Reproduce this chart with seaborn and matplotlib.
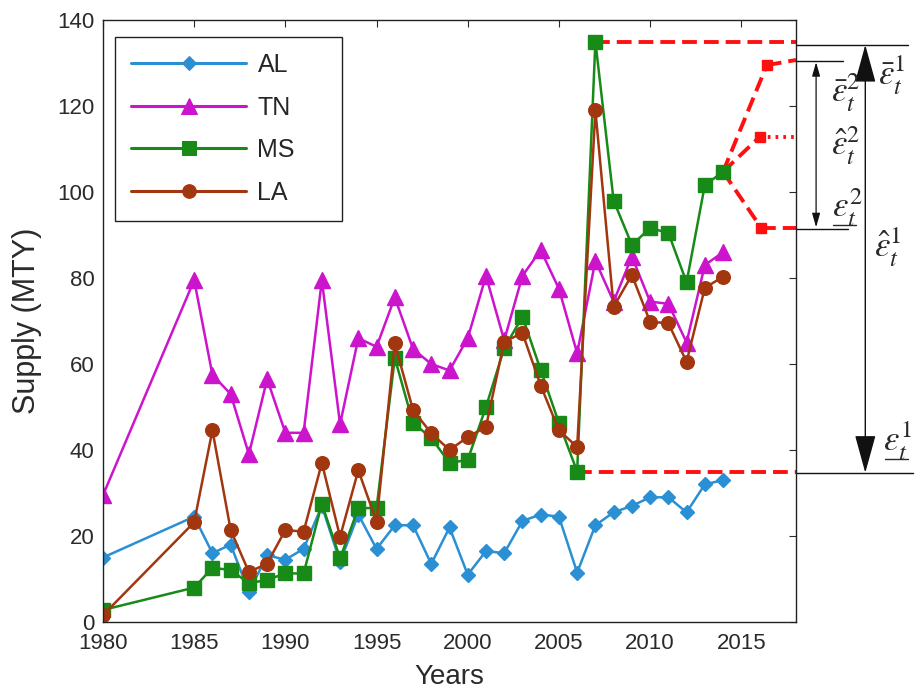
import numpy as np
import pandas as pd
import matplotlib
matplotlib.use("Agg")
import matplotlib.pyplot as plt
import matplotlib.transforms as mtransforms
import seaborn as sns

# ---------------- data ----------------
years = [1980, 1985, 1986, 1987, 1988, 1989, 1990, 1991, 1992, 1993, 1994, 1995,
         1996, 1997, 1998, 1999, 2000, 2001, 2002, 2003, 2004, 2005, 2006, 2007,
         2008, 2009, 2010, 2011, 2012, 2013, 2014]
AL = [15, 24.5, 16, 18, 7, 15.5, 14.5, 17, 27, 14, 25, 17, 22.5, 22.5, 13.5, 22,
      11, 16.5, 16, 23.5, 25, 24.5, 11.5, 22.5, 25.5, 27, 29, 29, 25.5, 32, 33]
TN = [29.5, 79.5, 57.5, 53, 39, 56.5, 44, 44, 79.5, 46, 66, 64, 75.5, 63.5, 60,
      58.5, 66, 80.5, 65.5, 80.5, 86.5, 77.5, 62.5, 84, 74.5, 85, 74.5, 74, 65, 83, 86]
MS = [2.8, 8, 12.6, 12.1, 9, 9.8, 11.3, 11.3, 27.5, 14.8, 26.5, 26.5, 61.4, 46.3,
      42.8, 37, 37.7, 50, 63.7, 71, 58.6, 46.3, 35, 135, 98, 87.7, 91.6, 90.5, 79,
      101.6, 104.7]
LA = [1.6, 23.2, 44.6, 21.4, 11.6, 13.6, 21.4, 21, 37, 19.8, 35.3, 23.3, 64.8,
      49.3, 43.9, 40, 43, 45.4, 65.2, 67.2, 55, 44.6, 40.7, 119, 73.3, 80.7, 69.8,
      69.5, 60.5, 77.7, 80.3]
states = ["AL", "TN", "MS", "LA"]

# bounds (epsilon 1) and forecast branches (epsilon 2)
bound_upper = 135.0
bound_upper_start = 2007
bound_lower = 35.0
bound_lower_start = 2006
fc_base_year = 2014
fc_base_value = 104.7
fc_years = [2016.4, 2016.0, 2016.1]
fc_upper = [129.5, 130.7]
fc_mid = [112.8, 112.8]
fc_lower = [91.6, 91.6]
x_end = 2018

xticks = [1980, 1985, 1990, 1995, 2000, 2005, 2010, 2015]
yticks = [0, 20, 40, 60, 80, 100, 120, 140]

# ---------------- style ----------------
sns.set_theme(style="white")
plt.rcParams["font.family"] = ["Liberation Sans Narrow", "Liberation Sans", "DejaVu Sans"]
plt.rcParams["mathtext.fontset"] = "stix"

colors = {"AL": "#2b8fd3", "TN": "#cc14cc", "MS": "#178a17", "LA": "#a2360f"}
markers = {"AL": "D", "TN": "^", "MS": "s", "LA": "o"}
msizes = {"AL": 7.0, "TN": 11.0, "MS": 10.5, "LA": 9.8}

df = pd.DataFrame({
    "Year": years * 4,
    "Supply": AL + TN + MS + LA,
    "State": sum([[s] * len(years) for s in states], []),
})

fig = plt.figure(figsize=(9.17, 6.96), dpi=100)
ax = fig.add_axes([103 / 917, 1 - 622 / 696, 693 / 917, 602 / 696])

sns.lineplot(data=df, x="Year", y="Supply", hue="State", style="State",
             hue_order=states, style_order=states, palette=colors,
             markers=markers, dashes=False, lw=1.8, ax=ax, legend=True)
for ln, s in zip(ax.lines[:4], states):
    ln.set_markeredgecolor(ln.get_color())
    ln.set_markersize(msizes[s])
    ln.set_markeredgewidth(1.0)

red = "#ff1010"
dash = (3.8, 1.8)
ax.plot([bound_upper_start, x_end], [bound_upper, bound_upper], color=red, lw=2.8,
        dashes=dash, zorder=1.5, clip_on=False)
ax.plot([bound_lower_start, x_end], [bound_lower, bound_lower], color=red, lw=2.8,
        dashes=dash, zorder=1.5, clip_on=False)
for fy, branch, style in [(fc_years[0], fc_upper, "dash"),
                          (fc_years[1], fc_mid, "dot"),
                          (fc_years[2], fc_lower, "dash")]:
    ax.plot([fc_base_year, fy], [fc_base_value, branch[0]], color=red, lw=2.8,
            dashes=dash, zorder=1.5)
    ax.plot([fy], [branch[0]], marker="s", color=red, markersize=7, zorder=3)
    if style == "dot":
        ax.plot([fy, x_end], branch, color=red, lw=2.8, dashes=(0.7, 1.3),
                zorder=1.5, clip_on=False)
    else:
        ax.plot([fy, x_end], branch, color=red, lw=2.8, dashes=dash,
                zorder=1.5, clip_on=False)

ax.set_xlim(1980, 2018)
ax.set_ylim(0, 140)
ax.set_xticks(xticks)
ax.set_yticks(yticks)
ax.tick_params(direction="in", length=5, width=0.8, top=True, right=True,
               labelsize=16, colors="#2a2a2a")
ax.tick_params(axis="x", pad=8)
ax.tick_params(axis="y", pad=6)
for sp in ax.spines.values():
    sp.set_color("#222222")
    sp.set_linewidth(1.0)
ax.set_xlabel("Years", fontsize=20, color="#2a2a2a", labelpad=7)
ax.set_ylabel("Supply (MTY)", fontsize=22, color="#2a2a2a", labelpad=11)

leg = ax.legend(loc="upper left", bbox_to_anchor=(0.0173, 0.9718, 0.3276, 0.0),
                mode="expand", borderaxespad=0, fancybox=False, framealpha=1,
                edgecolor="#222222", fontsize=18, handlelength=4.6,
                labelspacing=0.74, borderpad=0.65, handletextpad=0.45)
leg.get_frame().set_linewidth(1.0)
for h, s in zip(leg.get_lines(), states):
    h.set_markeredgecolor(h.get_color())
    h.set_markersize(msizes[s])
    h.set_linewidth(2.2)

# ---------------- annotations outside the axes ----------------
bt = mtransforms.blended_transform_factory(ax.transAxes, ax.transData)
k = "#111111"
ax.plot([1.0, 1.162], [bound_upper - 0.8, bound_upper - 0.8], color=k, lw=1.0,
        transform=bt, clip_on=False)
ax.plot([1.0, 1.169], [bound_lower - 0.3, bound_lower - 0.3], color=k, lw=1.0,
        transform=bt, clip_on=False)
ax.plot([1.0, 1.068], [fc_upper[1] - 0.2, fc_upper[1] - 0.2], color=k, lw=1.0,
        transform=bt, clip_on=False)
ax.plot([1.0, 1.075], [fc_lower[1] - 0.2, fc_lower[1] - 0.2], color=k, lw=1.0,
        transform=bt, clip_on=False)
ax.annotate("", xy=(1.100, bound_upper - 0.8), xytext=(1.100, bound_lower - 0.3),
            xycoords=bt, textcoords=bt, annotation_clip=False,
            arrowprops=dict(arrowstyle="<|-|>,head_length=2.0,head_width=0.55",
                            color=k, lw=1.0, shrinkA=0, shrinkB=0))
ax.annotate("", xy=(1.029, fc_upper[1] - 0.5), xytext=(1.029, fc_lower[1] + 0.2),
            xycoords=bt, textcoords=bt, annotation_clip=False,
            arrowprops=dict(arrowstyle="<|-|>,head_length=0.7,head_width=0.2",
                            color=k, lw=0.9, shrinkA=0, shrinkB=0))

tk = dict(transform=bt, fontsize=25, color="#2a2a2a", ha="left", va="baseline",
          clip_on=False)
ax.text(1.119, 124.9, r"$\bar{\varepsilon}_t^1$", **tk)
ax.text(1.112, 84.7, r"$\hat{\varepsilon}_t^1$", **tk)
ax.text(1.126, 39.6, r"$\varepsilon_t^1$", **tk)
ax.plot([1.128, 1.162], [37.9, 37.9], color="#2a2a2a", lw=1.0, transform=bt,
        clip_on=False)
ax.text(1.050, 120.9, r"$\bar{\varepsilon}_t^2$", **tk)
ax.text(1.050, 108.6, r"$\hat{\varepsilon}_t^2$", **tk)
ax.text(1.052, 94.2, r"$\varepsilon_t^2$", **tk)
ax.plot([1.054, 1.087], [92.3, 92.3], color="#2a2a2a", lw=1.0, transform=bt,
        clip_on=False)

fig.savefig("out.png", dpi=100)
